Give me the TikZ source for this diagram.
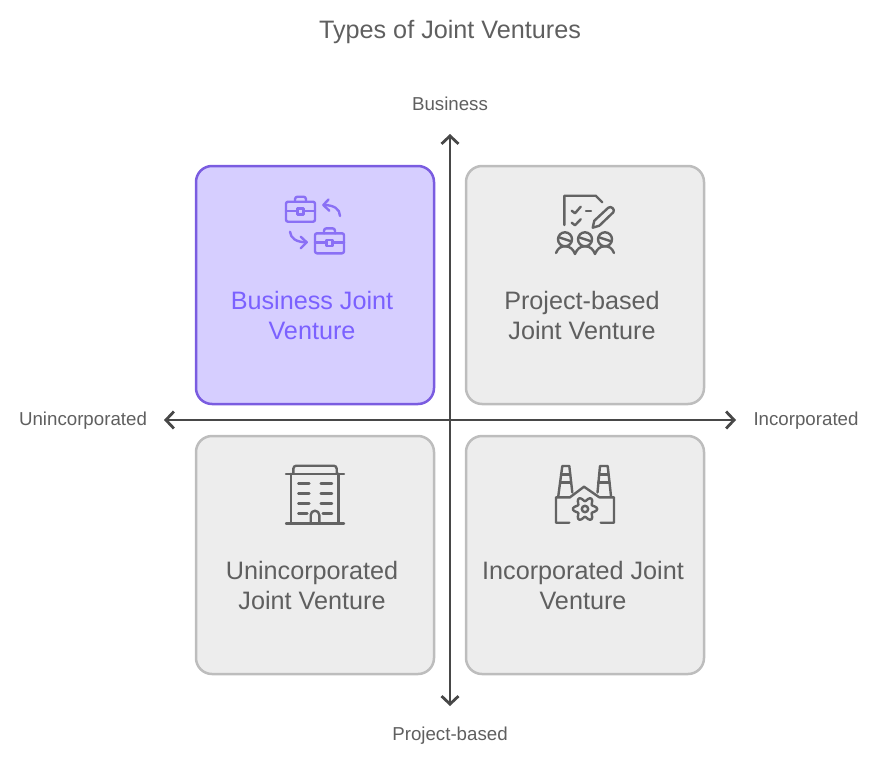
\documentclass[tikz,border=0pt]{standalone}
\usepackage{fontspec}
\setmainfont{Liberation Sans}
\usetikzlibrary{arrows.meta}
\definecolor{txtgray}{HTML}{5F5F5F}
\definecolor{axisgray}{HTML}{474747}
\definecolor{boxfill}{HTML}{EDEDED}
\definecolor{boxline}{HTML}{BDBDBD}
\definecolor{purpfill}{HTML}{D6CEFF}
\definecolor{purpline}{HTML}{7A5CE0}
\definecolor{purptxt}{HTML}{7B61FF}
\definecolor{icongray}{HTML}{636363}
\definecolor{iconpurp}{HTML}{8A70F5}
\tikzset{
	quadbox/.style={draw=boxline, fill=boxfill, line width=2.5pt, rounded corners=16pt, minimum size=238pt, inner sep=0pt},
	purpbox/.style={quadbox, draw=purpline, fill=purpfill},
	quadtext/.style={text=txtgray, align=center, font=\fontsize{25.2}{30}\selectfont},
	axistext/.style={text=txtgray, font=\fontsize{18.7}{22}\selectfont},
	axisline/.style={draw=axisgray, line width=2.8pt, {Straight Barb[length=8pt,width=17pt]}-{Straight Barb[length=8pt,width=17pt]}},
	iconline/.style={draw=icongray, line width=2.4pt, line cap=round, line join=round},
	purpicon/.style={iconline, draw=iconpurp}
}
\begin{document}
\begin{tikzpicture}[x=1pt, y=-1pt]
	\useasboundingbox (0, 0) rectangle (885, 765);

	%%%%% boxes %%%%%
	\node[purpbox] (bizbox) at (315, 285) {};
	\node[quadbox] (projbox) at (585, 285) {};
	\node[quadbox] (unincbox) at (315, 555) {};
	\node[quadbox] (incbox) at (585, 555) {};

	%%%%% axes %%%%%
	\coordinate (top) at (450, 134);
	\coordinate (bottom) at (450, 706);
	\coordinate (left) at (164, 420);
	\coordinate (right) at (736, 420);
	\draw[axisline] (bottom) -- (top);
	\draw[axisline] (left) -- (right);

	%%%%% texts %%%%%
	\node[text=txtgray, font=\fontsize{25.2}{28}\selectfont] (title) at (450, 32) {Types of Joint Ventures};
	\node[axistext] (toplabel) at (450, 104) {Business};
	\node[axistext] (bottomlabel) at (450, 736) {Project-based};
	\node[axistext] (leftlabel) at (83, 421) {Unincorporated};
	\node[axistext] (rightlabel) at (806, 421) {Incorporated};
	\node[quadtext, text=purptxt] (biztext) at (312, 315) {Business Joint\\Venture};
	\node[quadtext] (projtext) at (582, 315) {Project-based\\Joint Venture};
	\node[quadtext] (unintext) at (312, 585) {Unincorporated\\Joint Venture};
	\node[quadtext] (inctext) at (583, 585) {Incorporated Joint\\Venture};

	%%%%% briefcases %%%%%
	\foreach \cx/\cy in {286/201.7, 315/233.3} {
		\draw[purpicon, rounded corners=2pt] (\cx, \cy) rectangle (\cx+29, \cy+20);
		\draw[purpicon] (\cx, \cy+9) -- (\cx+11.3, \cy+9) (\cx+17.3, \cy+9) -- (\cx+29, \cy+9);
		\draw[purpicon] (\cx+11.3, \cy+6.6) rectangle (\cx+17.3, \cy+12.6);
		\draw[purpicon, rounded corners=2.5pt] (\cx+9, \cy) -- (\cx+9, \cy-5) -- (\cx+20, \cy-5) -- (\cx+20, \cy);
	}
	\draw[purpicon] (340, 216) .. controls (340, 209) and (334, 205) .. (323.5, 205);
	\draw[purpicon] (328.5, 199.5) -- (323.3, 205) -- (329.3, 210.7);
	\draw[purpicon] (290, 231.7) .. controls (290.5, 238) and (296, 242.3) .. (306.7, 242.3);
	\draw[purpicon] (300.7, 236.7) -- (306.7, 242.3) -- (300.7, 248.3);

	%%%%% document and people %%%%%
	\draw[iconline] (564.3, 225) -- (564.3, 195.7) -- (595.7, 195.7) -- (602.3, 202.3);
	\draw[iconline] (571.7, 210.7) -- (575, 213.3) -- (580.7, 206.7);
	\draw[iconline] (571.7, 222.7) -- (575, 225.3) -- (580.7, 219.3);
	\draw[iconline] (586, 210.7) -- (591, 210.7);
	\draw[iconline] (592.7, 227.7) -- (594.3, 220.7) -- (608.3, 207.7) .. controls (611, 205.5) and (615.5, 209.5) .. (613.3, 212.3) -- (599.3, 225.7) -- cycle;
	\foreach \hx in {565, 585, 605} {
		\draw[iconline] (\hx, 239.3) circle (7);
		\draw[iconline] (\hx-6, 237.3) -- (\hx+6, 241.3);
	}
	\draw[iconline] (556, 253) .. controls (558, 248) and (561, 246.3) .. (565, 246.3) .. controls (570, 246.3) and (573, 249) .. (575, 254);
	\draw[iconline] (575, 254) .. controls (577, 249) and (580, 246.3) .. (585, 246.3) .. controls (590, 246.3) and (593, 249) .. (595, 254);
	\draw[iconline] (595, 254) .. controls (597, 249) and (600, 246.3) .. (605, 246.3) .. controls (609, 246.3) and (612, 248) .. (614, 253);

	%%%%% building %%%%%
	\draw[iconline] (286, 473.7) -- (344, 473.7);
	\draw[iconline] (286, 523.3) -- (344, 523.3);
	\draw[iconline, rounded corners=3pt] (293.3, 473.7) -- (293.3, 465.7) -- (336.7, 465.7) -- (336.7, 473.7);
	\draw[iconline] (291, 473.7) -- (291, 523.3) (338.3, 473.7) -- (338.3, 523.3);
	\foreach \wy in {483.3, 493.3, 503.3} {
		\draw[iconline] (298.3, \wy) -- (309.3, \wy) (320.7, \wy) -- (332, \wy);
	}
	\draw[iconline] (298.3, 513.3) -- (307.3, 513.3) (322.7, 513.3) -- (332, 513.3);
	\draw[iconline] (310.7, 523.3) -- (310.7, 515) arc (180:360:4.3) -- (319.3, 523.3);

	%%%%% factory %%%%%
	\draw[iconline] (558.3, 496) -- (562.3, 466) -- (569.3, 466) -- (572.3, 492.5);
	\draw[iconline] (561, 474.3) -- (570, 474.3) (560, 482.3) -- (571, 482.3);
	\draw[iconline] (597.5, 492.5) -- (600, 466) -- (607.7, 466) -- (611, 496);
	\draw[iconline] (599, 474.3) -- (608.5, 474.3) (598, 482.3) -- (609.5, 482.3);
	\draw[iconline] (569.3, 522.7) -- (556, 522.7) -- (556, 497.3) -- (570, 497.3) -- (584, 486.7) -- (599.3, 497.3) -- (614, 497.3) -- (614, 522.7) -- (600.7, 522.7);
	\draw[iconline] plot[smooth cycle, samples=49, domain=0:352.5] ({585+(10+2.2*sin(6*\x+90))*cos(\x)}, {509+(10+2.2*sin(6*\x+90))*sin(\x)});
	\draw[iconline] (585, 509) circle (3.2);
\end{tikzpicture}
\end{document}
